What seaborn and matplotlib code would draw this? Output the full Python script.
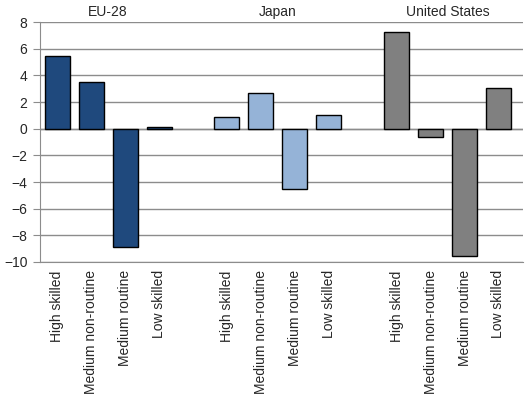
import matplotlib
matplotlib.use("Agg")
import matplotlib.pyplot as plt
import pandas as pd
import seaborn as sns

# Data
regions = ["EU-28", "Japan", "United States"]
skills = ["High skilled", "Medium non-routine", "Medium routine", "Low skilled"]
eu_values = [5.45, 3.5, -8.87, 0.13]
japan_values = [0.88, 2.68, -4.52, 1.03]
us_values = [7.25, -0.62, -9.55, 3.05]
region_colors = ["#1F497D", "#95B3D7", "#808080"]

sns.set_style("white")
plt.rcParams["font.family"] = ["Liberation Sans", "DejaVu Sans"]

# Long table, one row per bar; slot keys keep repeated skill names apart
rows = []
for region, vals in zip(regions, [eu_values, japan_values, us_values]):
    for skill, v in zip(skills, vals):
        rows.append({"slot": f"{region}|{skill}", "region": region,
                     "skill": skill, "change": v})
df = pd.DataFrame(rows)

# order with empty gap slots between groups
order = []
for i, region in enumerate(regions):
    order += [f"{region}|{s}" for s in skills]
    if i < len(regions) - 1:
        order.append(f"gap{i}")

fig = plt.figure(figsize=(5.25, 4.03), dpi=100)
ax = fig.add_axes([0.076, 0.35, 0.92, 0.595])

sns.barplot(
    data=df, x="slot", y="change", hue="region", order=order,
    hue_order=regions, palette=region_colors, dodge=False, saturation=1,
    width=0.735, edgecolor="black", linewidth=1.0, legend=False, ax=ax,
)

ax.set_ylim(-10, 8)
ax.set_yticks(range(-10, 9, 2))
ax.set_xlim(-0.51, 13.72)
ax.yaxis.grid(True, color="#8c8c8c", linewidth=1.0)
ax.set_axisbelow(True)
ax.axhline(0, color="#8c8c8c", linewidth=1.0, zorder=0.5)

ax.set_xticks(range(len(order)))
ax.set_xticklabels([s.split("|")[1] if "|" in s else "" for s in order],
                   rotation=90, fontsize=10)
ax.tick_params(axis="x", length=0, pad=6)
ax.tick_params(axis="y", labelsize=10, length=5, color="#8c8c8c",
               direction="out", left=True, pad=4)
ax.set_xlabel("")
ax.set_ylabel("")

for side in ["top", "right"]:
    ax.spines[side].set_visible(False)
for side in ["left", "bottom"]:
    ax.spines[side].set_color("#8c8c8c")

# group titles above each block of bars
for i, region in enumerate(regions):
    ax.text(i * 5 + 1.5, 1.015, region, transform=ax.get_xaxis_transform(),
            ha="center", va="bottom", fontsize=10)

fig.savefig("out.png", dpi=100)
